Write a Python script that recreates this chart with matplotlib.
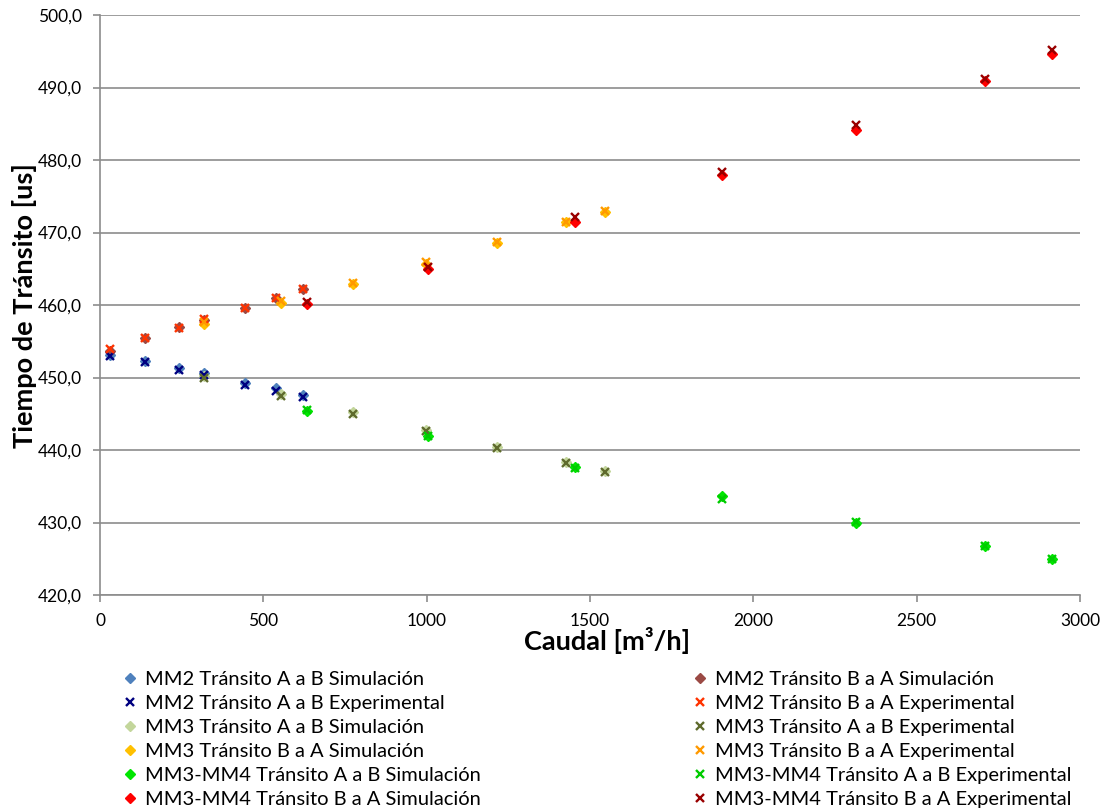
import matplotlib
matplotlib.use("Agg")
import matplotlib.pyplot as plt

plt.rcParams['font.family'] = ['Lato', 'DejaVu Sans']

# Caudal [m3/h] for each meter configuration
caudal_mm2 = [31, 138, 242, 318, 444, 538, 621]
caudal_mm3 = [318, 555, 776, 998, 1214, 1425, 1547]
caudal_mm34 = [635, 1004, 1454, 1904, 2315, 2710, 2914]

# Tiempo de tránsito [us]
mm2_ab_sim = [453.1, 452.3, 451.3, 450.6, 449.3, 448.5, 447.6]
mm2_ab_exp = [452.9, 452.1, 451.1, 450.4, 449.0, 448.2, 447.3]
mm2_ba_sim = [453.7, 455.5, 456.9, 458.0, 459.6, 461.0, 462.2]
mm2_ba_exp = [453.9, 455.4, 456.8, 458.1, 459.6, 460.9, 462.2]

mm3_ab_sim = [450.2, 447.7, 445.2, 442.8, 440.4, 438.3, 437.1]
mm3_ab_exp = [450.0, 447.5, 445.0, 442.6, 440.3, 438.2, 437.0]
mm3_ba_sim = [457.4, 460.3, 462.9, 465.7, 468.6, 471.4, 472.8]
mm3_ba_exp = [457.6, 460.5, 463.0, 465.9, 468.7, 471.5, 472.9]

mm34_ab_sim = [445.4, 441.9, 437.6, 433.6, 430.0, 426.8, 425.0]
mm34_ab_exp = [445.5, 442.0, 437.5, 433.3, 430.1, 426.7, 424.9]
mm34_ba_sim = [460.2, 465.0, 471.4, 477.9, 484.2, 490.9, 494.6]
mm34_ba_exp = [460.4, 465.2, 472.1, 478.4, 484.8, 491.2, 495.2]

x_ticks = [0, 500, 1000, 1500, 2000, 2500, 3000]
y_ticks = [420, 430, 440, 450, 460, 470, 480, 490, 500]

series = [
    ("MM2 Tránsito A a B Simulación", caudal_mm2, mm2_ab_sim, "D", "#4F81BD"),
    ("MM2 Tránsito B a A Simulación", caudal_mm2, mm2_ba_sim, "D", "#9B4A45"),
    ("MM2 Tránsito A a B Experimental", caudal_mm2, mm2_ab_exp, "x", "#000080"),
    ("MM2 Tránsito B a A Experimental", caudal_mm2, mm2_ba_exp, "x", "#FF3300"),
    ("MM3 Tránsito A a B Simulación", caudal_mm3, mm3_ab_sim, "D", "#C3D69B"),
    ("MM3 Tránsito A a B Experimental", caudal_mm3, mm3_ab_exp, "x", "#5F6B2D"),
    ("MM3 Tránsito B a A Simulación", caudal_mm3, mm3_ba_sim, "D", "#FFC000"),
    ("MM3 Tránsito B a A Experimental", caudal_mm3, mm3_ba_exp, "x", "#FF9900"),
    ("MM3-MM4 Tránsito A a B Simulación", caudal_mm34, mm34_ab_sim, "D", "#00E600"),
    ("MM3-MM4 Tránsito A a B Experimental", caudal_mm34, mm34_ab_exp, "x", "#00CC00"),
    ("MM3-MM4 Tránsito B a A Simulación", caudal_mm34, mm34_ba_sim, "D", "#FF0000"),
    ("MM3-MM4 Tránsito B a A Experimental", caudal_mm34, mm34_ba_exp, "x", "#990000"),
]

W, H = 1108, 810
fig = plt.figure(figsize=(W / 100, H / 100), dpi=100)
ax = fig.add_axes([100 / W, 1 - 595 / H, 980 / W, 580 / H])

handles = {}
for label, xs, ys, mk, col in series:
    if mk == "D":
        h, = ax.plot(xs, ys, linestyle="none", marker="D", markersize=5,
                     color=col, markeredgecolor=col, zorder=3)
    else:
        h, = ax.plot(xs, ys, linestyle="none", marker="x", markersize=6.3,
                     markeredgewidth=1.7, color=col, zorder=4)
    handles[label] = h

ax.set_xlim(0, 3000)
ax.set_ylim(420, 500)
ax.set_xticks(x_ticks)
ax.set_yticks(y_ticks)
ax.set_yticklabels([f"{v:.1f}".replace(".", ",") for v in y_ticks])
ax.set_xticklabels([str(v) for v in x_ticks])
ax.grid(axis="y", color="#8c8c8c", linewidth=1.2)
ax.set_axisbelow(True)
for side in ("top", "right"):
    ax.spines[side].set_visible(False)
for side in ("left", "bottom"):
    ax.spines[side].set_color("#8c8c8c")
    ax.spines[side].set_linewidth(1.2)
ax.tick_params(axis="both", colors="#8c8c8c", labelcolor="black",
               labelsize=12.5, length=5, width=1.2, direction="out")
ax.tick_params(axis="y", pad=8)
ax.tick_params(axis="x", pad=8)

# Axis titles
fig.text(607 / W, 1 - 641 / H, "Caudal [m³/h]", fontsize=19.5, fontweight="bold",
         ha="center", va="center")
fig.text(25 / W, 1 - 306 / H, "Tiempo de Tránsito [us]", fontsize=19.5,
         fontweight="bold", rotation=90, ha="center", va="center")

labels = [s[0] for s in series]
left_col = labels[0::2]
right_col = labels[1::2]

common = dict(frameon=False, fontsize=14.5, handlelength=0.72, handletextpad=0.4,
              borderpad=0, borderaxespad=0, labelspacing=0.34, loc="upper left")
leg1 = fig.legend([handles[l] for l in left_col], left_col,
                  bbox_to_anchor=(122.8 / W, 1 - 671 / H), **common)
leg2 = fig.legend([handles[l] for l in right_col], right_col,
                  bbox_to_anchor=(692.8 / W, 1 - 671 / H), **common)

fig.savefig("out.png", dpi=100)
